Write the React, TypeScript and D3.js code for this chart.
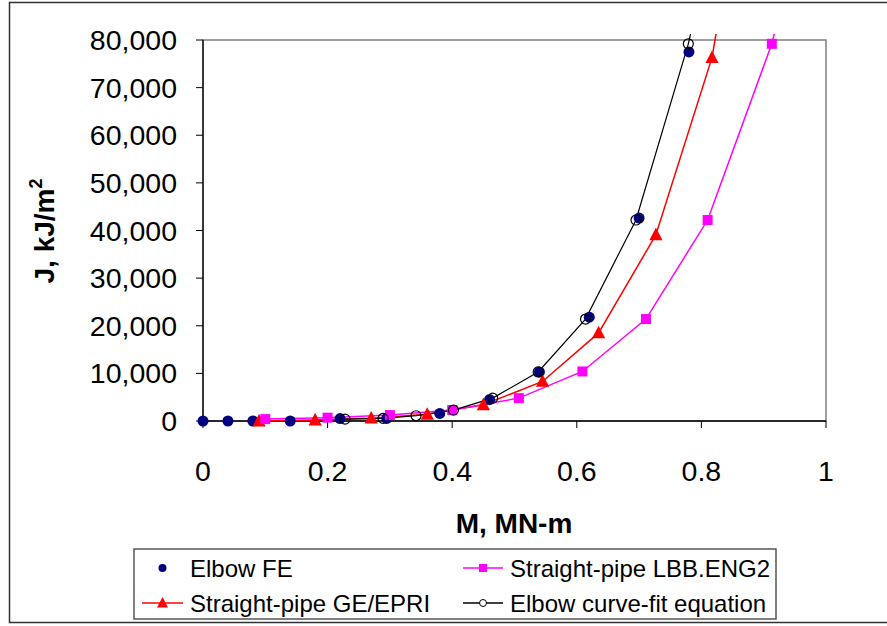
import React from "react";
import * as d3 from "d3";

// ---- Data ----
const elbowFE_M = [0, 0.04, 0.08, 0.14, 0.22, 0.295, 0.38, 0.46, 0.54, 0.62, 0.7, 0.78];
const elbowFE_J = [0, 0, 0, 0, 500, 550, 1600, 4500, 10300, 21800, 42600, 77500];

const geEpri_M = [0.09, 0.18, 0.27, 0.36, 0.45, 0.545, 0.635, 0.727, 0.817, 0.9];
const geEpri_J = [0, 200, 600, 1400, 3400, 8300, 18500, 39100, 76300, 140000];

const lbb_M = [0.1, 0.2, 0.3, 0.4, 0.507, 0.609, 0.711, 0.81, 0.913, 1.01];
const lbb_J = [400, 700, 1250, 2300, 4800, 10400, 21400, 42200, 79200, 130000];

const fit_M = [0.228, 0.289, 0.342, 0.402, 0.465, 0.538, 0.614, 0.695, 0.779, 0.87];
const fit_J = [400, 550, 1100, 2300, 4800, 10300, 21400, 42200, 79200, 131000];

const xTicks = [0, 0.2, 0.4, 0.6, 0.8, 1];
const xTickLabels = ["0", "0.2", "0.4", "0.6", "0.8", "1"];
const yTicks = [0, 10000, 20000, 30000, 40000, 50000, 60000, 70000, 80000];
const yTickLabels = ["0", "10,000", "20,000", "30,000", "40,000", "50,000", "60,000", "70,000", "80,000"];

const legendNames = ["Elbow FE", "Straight-pipe LBB.ENG2", "Straight-pipe GE/EPRI", "Elbow curve-fit equation"];

const FONT = "'Liberation Sans', Arial, Helvetica, sans-serif";

const zip = (xs: number[], ys: number[]) => xs.map((x, i) => [x, ys[i]] as [number, number]);

export default function App() {
  const W = 887, H = 626;
  const L = 203, R = 826, T = 40, B = 421;
  const x = d3.scaleLinear().domain([0, 1]).range([L, R]);
  const y = d3.scaleLinear().domain([0, 80000]).range([B, T]);
  const line = d3.line<[number, number]>().x(d => x(d[0])).y(d => y(d[1]));

  const fe = zip(elbowFE_M, elbowFE_J);
  const ge = zip(geEpri_M, geEpri_J);
  const lbb = zip(lbb_M, lbb_J);
  const fit = zip(fit_M, fit_J);
  const inView = (d: [number, number]) => d[1] <= 80000 && d[0] <= 1;

  const tri = (cx: number, cy: number, s: number) =>
    `M${cx},${cy - s * 0.6} L${cx + s * 0.55},${cy + s * 0.45} L${cx - s * 0.55},${cy + s * 0.45} Z`;

  const lw = 1.5;

  const legendMarker = (kind: string, cx: number, cy: number) => {
    if (kind === "fe") return <circle cx={cx} cy={cy} r={4} fill="#000080" />;
    if (kind === "ge") return <path d={tri(cx, cy, 10)} fill="#FF0000" />;
    if (kind === "lbb") return <rect x={cx - 4} y={cy - 4} width={8} height={8} fill="#FF00FF" />;
    return <circle cx={cx} cy={cy} r={3.5} fill="white" stroke="#000" strokeWidth={1} />;
  };

  const legendRows = [
    { kind: "fe", name: legendNames[0], col: 0, row: 0, color: null },
    { kind: "lbb", name: legendNames[1], col: 1, row: 0, color: "#FF00FF" },
    { kind: "ge", name: legendNames[2], col: 0, row: 1, color: "#FF0000" },
    { kind: "fit", name: legendNames[3], col: 1, row: 1, color: "#000" },
  ];
  const colX = [[142, 183, 190], [463, 503, 510]];
  const rowY = [568, 603];

  return (
    <svg width={W} height={H} style={{ position: "absolute", left: 0, top: 0, background: "#fff" }} fontFamily={FONT}>
      <defs>
        <clipPath id="plotclip">
          <rect x={L} y={34} width={R - L + 10} height={B - 34 + 10} />
        </clipPath>
      </defs>
      {/* outer frame */}
      <rect x={9.5} y={2.5} width={890} height={620} fill="none" stroke="#333" strokeWidth={1.5} />

      {/* plot border (top/right gray) */}
      <rect x={L} y={T} width={R - L} height={B - T} fill="none" stroke="#808080" strokeWidth={1.5} />
      {/* axes */}
      <line x1={L} y1={T} x2={L} y2={B} stroke="#000" strokeWidth={1.3} />
      <line x1={L} y1={B} x2={R} y2={B} stroke="#000" strokeWidth={1.3} />

      {yTicks.map((t, i) => (
        <g key={"yt" + i}>
          <line x1={L - 7} x2={L} y1={y(t)} y2={y(t)} stroke="#000" strokeWidth={1} />
          <text x={177} y={y(t) + 10} textAnchor="end" fontSize={28.5} fill="#000">{yTickLabels[i]}</text>
        </g>
      ))}
      {xTicks.map((t, i) => (
        <g key={"xt" + i}>
          <line x1={x(t)} x2={x(t)} y1={B} y2={B + 7} stroke="#000" strokeWidth={1} />
          <text x={x(t)} y={481} textAnchor="middle" fontSize={28.5} fill="#000">{xTickLabels[i]}</text>
        </g>
      ))}

      {/* axis titles */}
      <text x={514} y={533} textAnchor="middle" fontSize={28} fontWeight="bold" fill="#000">M, MN-m</text>
      <text transform="translate(54,231) rotate(-90)" textAnchor="middle" fontSize={28} fontWeight="bold" fill="#000">
        J, kJ/m<tspan fontSize={18} dy={-12}>2</tspan>
      </text>

      {/* series */}
      <g clipPath="url(#plotclip)">
        <path d={line(ge) || ""} fill="none" stroke="#FF0000" strokeWidth={lw} />
        <path d={line(lbb) || ""} fill="none" stroke="#FF00FF" strokeWidth={lw} />
        <path d={line(fit) || ""} fill="none" stroke="#000" strokeWidth={1.2} />
      </g>
      {fe.filter(inView).map((d, i) => (
        <circle key={"fe" + i} cx={x(d[0])} cy={y(d[1])} r={5.5} fill="#000080" />
      ))}
      {ge.filter(inView).map((d, i) => (
        <path key={"ge" + i} d={tri(x(d[0]), y(d[1]), 12)} fill="#FF0000" />
      ))}
      {lbb.filter(inView).map((d, i) => (
        <rect key={"lb" + i} x={x(d[0]) - 5} y={y(d[1]) - 5} width={10} height={10} fill="#FF00FF" />
      ))}
      {fit.filter(inView).map((d, i) => (
        <circle key={"fi" + i} cx={x(d[0])} cy={y(d[1])} r={5} fill="none" stroke="#000" strokeWidth={1.2} />
      ))}

      {/* legend */}
      <rect x={134} y={549} width={642} height={70} fill="#fff" stroke="#555" strokeWidth={1.5} />
      {legendRows.map((r, i) => {
        const [x1, x2, tx] = colX[r.col];
        const cy = rowY[r.row];
        return (
          <g key={"lg" + i}>
            {r.color && <line x1={x1} x2={x2} y1={cy} y2={cy} stroke={r.color} strokeWidth={lw} />}
            {legendMarker(r.kind, (x1 + x2) / 2, cy)}
            <text x={tx} y={cy + 8.5} fontSize={24} fill="#000">{r.name}</text>
          </g>
        );
      })}
    </svg>
  );
}
